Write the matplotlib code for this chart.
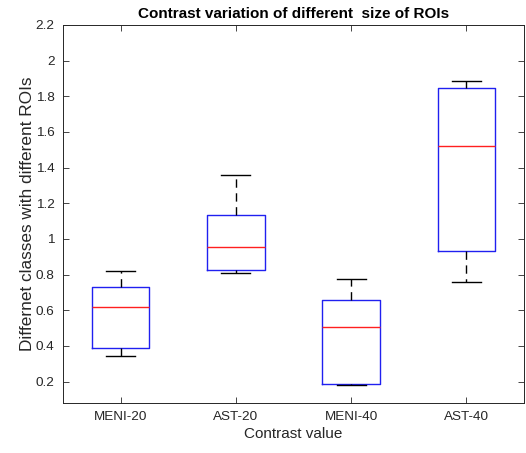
import matplotlib
matplotlib.use("Agg")
import matplotlib.pyplot as plt
from matplotlib.ticker import FuncFormatter

plt.rcParams['font.family'] = ['Liberation Sans', 'DejaVu Sans']

labels = ['MENI-20', 'AST-20', 'MENI-40', 'AST-40']
whislo = [0.342, 0.807, 0.180, 0.756]
q1 = [0.390, 0.827, 0.189, 0.935]
med = [0.620, 0.956, 0.504, 1.520]
q3 = [0.728, 1.135, 0.659, 1.845]
whishi = [0.820, 1.360, 0.773, 1.884]
yticks = [0.2, 0.4, 0.6, 0.8, 1.0, 1.2, 1.4, 1.6, 1.8, 2.0, 2.2]

stats = []
for i, lab in enumerate(labels):
    stats.append(dict(label=lab, whislo=whislo[i], q1=q1[i], med=med[i],
                      q3=q3[i], whishi=whishi[i], fliers=[]))

fig = plt.figure(figsize=(5.26, 4.53), dpi=100)
ax = fig.add_axes([63/526, 1-403/453, (524-63)/526, (403-25)/453])

ax.bxp(stats, positions=[1, 2, 3, 4], widths=0.5, showfliers=False,
       boxprops=dict(color='#2020f0', linewidth=1.0),
       medianprops=dict(color='#ff2020', linewidth=1.0),
       whiskerprops=dict(color='black', linewidth=1.0, linestyle=(0, (6, 4))),
       capprops=dict(color='black', linewidth=1.0))

ax.set_xlim(0.5, 4.5)
ax.set_ylim(0.08, 2.2)
ax.set_yticks(yticks)
ax.yaxis.set_major_formatter(FuncFormatter(lambda v, p: '%g' % round(v, 2)))
ax.set_xticks([1, 2, 3, 4])
ax.set_xticklabels(labels)

ax.tick_params(direction='in', top=True, right=True, length=4, width=0.6,
               labelsize=9.7, colors='#262626', pad=6)
for s in ax.spines.values():
    s.set_color('#262626')
    s.set_linewidth(0.7)

ax.set_title('Contrast variation of different  size of ROIs', fontsize=11,
             fontweight='bold', pad=5)
ax.set_xlabel('Contrast value', fontsize=11, color='#262626', labelpad=3)
ax.set_ylabel('Differnet classes with different ROIs', fontsize=12.4,
              color='#262626', labelpad=0.5)

fig.savefig('out.png', dpi=100)
